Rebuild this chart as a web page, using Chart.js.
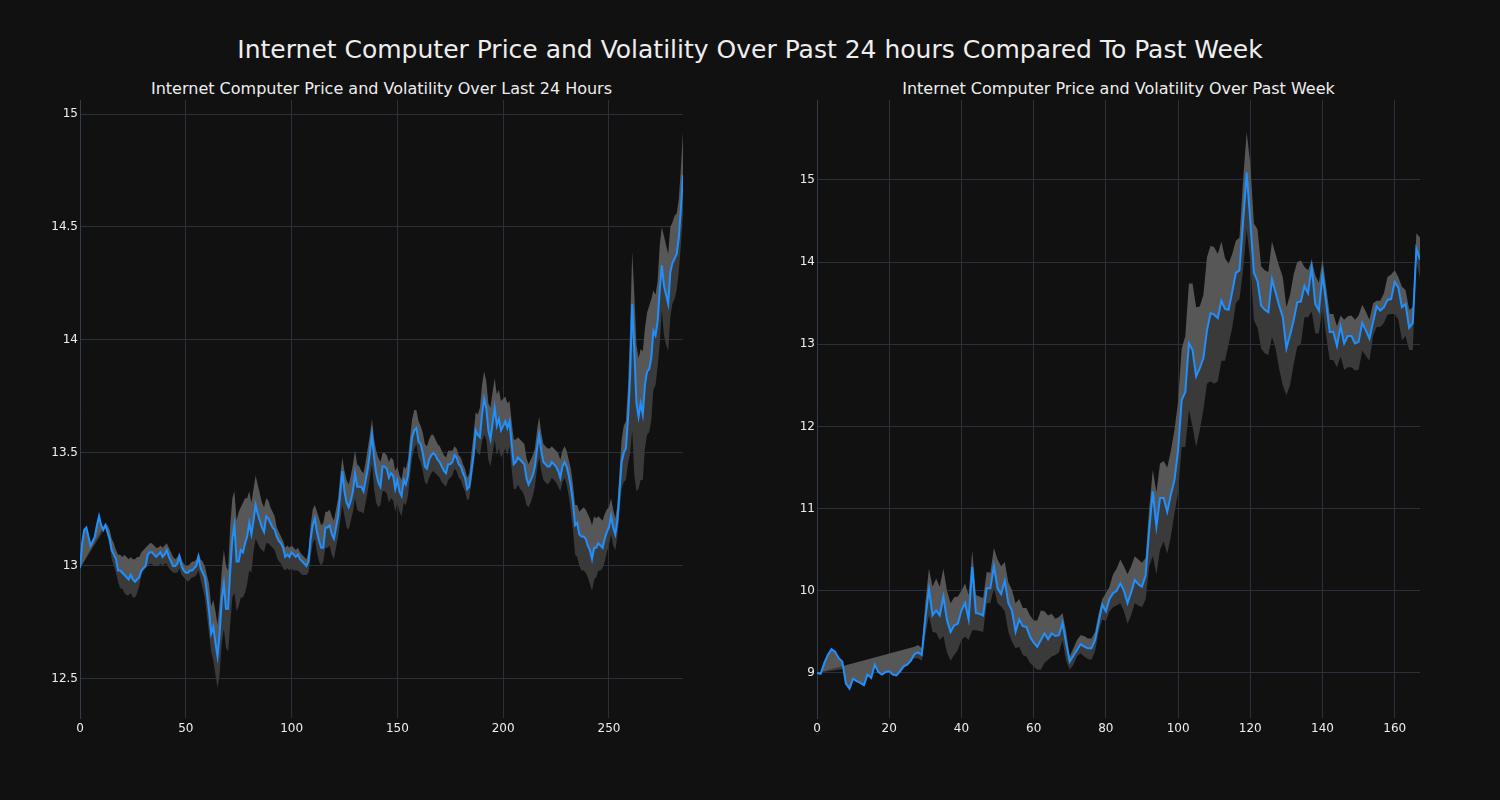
<!DOCTYPE html>
<html><head><meta charset="utf-8">
<script src="https://cdn.jsdelivr.net/npm/chart.js@4.4.1/dist/chart.umd.min.js"></script>
<style>
html,body{margin:0;padding:0;background:#111111;}
#wrap{position:relative;width:1500px;height:800px;background:#111111;font-family:"DejaVu Sans",sans-serif;color:#eeeeee;overflow:hidden;}
.title{position:absolute;left:0;width:1500px;top:35px;line-height:30px;text-align:center;font-size:25px;}
.sub{position:absolute;top:79px;line-height:20px;font-size:16px;text-align:center;}
canvas{position:absolute;top:0;}
</style></head>
<body>
<div id="wrap">
<div class="title">Internet Computer Price and Volatility Over Past 24 hours Compared To Past Week</div>
<div class="sub" style="left:80px;width:603px;">Internet Computer Price and Volatility Over Last 24 Hours</div>
<div class="sub" style="left:817px;width:603px;">Internet Computer Price and Volatility Over Past Week</div>
<canvas id="c1" width="750" height="800" style="left:0px;width:750px;height:800px;"></canvas>
<canvas id="c2" width="750" height="800" style="left:750px;width:750px;height:800px;"></canvas>
</div>
<script>
const dayXTicks = [0,50,100,150,200,250];
const dayYTicks = [12.5,13,13.5,14,14.5,15];
const weekXTicks = [0,20,40,60,80,100,120,140,160];
const weekYTicks = [9,10,11,12,13,14,15];

const dayPrice = [
12.99,13.10,13.16,13.17,13.13,13.09,13.11,13.13,13.18,13.22,
13.18,13.16,13.18,13.15,13.12,13.07,13.05,13.03,12.98,12.98,
12.97,12.96,12.95,12.94,12.96,12.94,12.93,12.94,12.95,12.98,
12.99,13.00,13.05,13.06,13.06,13.05,13.04,13.05,13.06,13.04,
13.05,13.07,13.04,13.02,13.00,13.00,13.01,13.04,13.00,12.98,
12.97,12.97,12.98,12.98,12.99,13.00,13.04,12.99,12.97,12.95,
12.88,12.80,12.70,12.73,12.66,12.60,12.70,12.85,12.92,12.81,
12.81,12.98,13.12,13.18,13.02,13.02,13.07,13.06,13.10,13.13,
13.19,13.14,13.20,13.27,13.23,13.20,13.17,13.15,13.22,13.21,
13.19,13.17,13.16,13.13,13.11,13.10,13.08,13.04,13.05,13.04,
13.06,13.05,13.04,13.05,13.03,13.02,13.01,13.00,13.02,13.12,
13.18,13.21,13.15,13.11,13.08,13.08,13.17,13.17,13.18,13.14,
13.12,13.17,13.22,13.32,13.42,13.33,13.28,13.26,13.29,13.33,
13.41,13.35,13.35,13.35,13.33,13.38,13.43,13.50,13.58,13.48,
13.41,13.37,13.35,13.44,13.44,13.43,13.39,13.41,13.40,13.34,
13.38,13.33,13.31,13.38,13.36,13.40,13.49,13.57,13.60,13.61,
13.55,13.54,13.50,13.44,13.43,13.47,13.49,13.50,13.49,13.47,
13.46,13.44,13.42,13.41,13.45,13.45,13.46,13.49,13.48,13.45,
13.44,13.41,13.39,13.34,13.35,13.42,13.49,13.60,13.58,13.57,
13.67,13.74,13.70,13.60,13.56,13.63,13.70,13.62,13.65,13.60,
13.62,13.64,13.61,13.64,13.54,13.45,13.46,13.48,13.47,13.46,
13.45,13.39,13.36,13.38,13.40,13.44,13.52,13.58,13.51,13.46,
13.45,13.44,13.44,13.46,13.45,13.44,13.42,13.39,13.44,13.46,
13.44,13.40,13.35,13.28,13.18,13.19,13.14,13.13,13.13,13.12,
13.09,13.07,13.03,13.08,13.08,13.10,13.09,13.08,13.12,13.15,
13.17,13.22,13.17,13.14,13.20,13.33,13.46,13.50,13.52,13.65,
13.84,14.16,13.95,13.72,13.66,13.72,13.67,13.80,13.86,13.87,
13.92,14.04,14.02,14.08,14.22,14.33,14.24,14.20,14.16,14.30,
14.34,14.36,14.38,14.45,14.58,14.73];

const dayUpper = [
12.99,null,null,null,null,null,null,null,null,null,
null,null,13.19,13.18,13.16,13.12,13.10,13.07,13.05,13.05,
13.04,13.05,13.04,13.03,13.04,13.03,13.03,13.04,13.04,13.06,
13.07,13.08,13.09,13.10,13.10,13.09,13.08,13.08,13.09,13.08,
13.09,13.10,13.08,13.06,13.04,13.03,13.04,13.06,13.03,13.01,
13.00,13.00,13.01,13.02,13.02,13.03,13.06,13.03,13.02,13.00,
12.96,12.92,12.82,12.85,12.80,12.74,12.84,12.98,13.07,13.00,
12.98,13.18,13.30,13.33,13.20,13.24,13.26,13.28,13.30,13.30,
13.33,13.28,13.34,13.40,13.36,13.32,13.28,13.26,13.30,13.29,
13.26,13.24,13.22,13.17,13.15,13.13,13.11,13.08,13.09,13.08,
13.09,13.08,13.07,13.08,13.06,13.05,13.04,13.03,13.06,13.18,
13.25,13.27,13.24,13.21,13.18,13.19,13.24,13.24,13.25,13.22,
13.20,13.25,13.30,13.40,13.48,13.42,13.38,13.36,13.40,13.45,
13.51,13.45,13.44,13.42,13.41,13.46,13.52,13.58,13.65,13.56,
13.51,13.48,13.46,13.50,13.50,13.49,13.46,13.48,13.47,13.42,
13.44,13.40,13.38,13.44,13.43,13.47,13.57,13.65,13.69,13.69,
13.64,13.62,13.59,13.54,13.53,13.56,13.58,13.58,13.56,13.54,
13.53,13.51,13.49,13.48,13.51,13.51,13.51,13.53,13.52,13.49,
13.48,13.45,13.43,13.39,13.41,13.50,13.58,13.68,13.67,13.70,
13.80,13.86,13.82,13.72,13.70,13.77,13.83,13.76,13.78,13.73,
13.74,13.75,13.72,13.73,13.64,13.56,13.56,13.57,13.56,13.55,
13.54,13.48,13.45,13.47,13.49,13.52,13.60,13.66,13.59,13.54,
13.53,13.52,13.52,13.53,13.52,13.51,13.50,13.47,13.51,13.53,
13.51,13.47,13.43,13.36,13.27,13.27,13.24,13.25,13.26,13.25,
13.23,13.21,13.18,13.22,13.21,13.22,13.21,13.20,13.23,13.25,
13.26,13.30,13.25,13.21,13.27,13.42,13.56,13.62,13.64,13.79,
14.05,14.39,14.20,13.98,13.92,13.96,13.95,14.05,14.12,14.15,
14.18,14.22,14.20,14.26,14.42,14.50,14.46,14.42,14.38,14.50,
14.52,14.55,14.56,14.62,14.76,14.92];

const dayLower = [
12.99,null,null,null,null,null,null,null,null,null,
null,null,13.17,13.13,13.09,13.03,13.00,12.97,12.93,12.90,
12.90,12.88,12.87,12.87,12.88,12.86,12.86,12.88,12.91,12.96,
12.98,12.99,13.00,13.01,13.01,13.00,13.00,13.00,13.01,13.00,
13.01,13.01,12.99,12.98,12.97,12.97,12.97,12.99,12.96,12.95,
12.94,12.93,12.94,12.95,12.95,12.96,12.98,12.94,12.90,12.86,
12.78,12.70,12.62,12.58,12.52,12.46,12.52,12.66,12.72,12.64,
12.62,12.74,12.86,12.88,12.80,12.82,12.86,12.86,12.88,12.92,
12.98,12.97,13.06,13.12,13.10,13.08,13.07,13.06,13.10,13.10,
13.09,13.08,13.07,13.04,13.02,13.01,12.99,12.98,12.99,12.98,
12.99,12.98,12.98,12.98,12.97,12.96,12.96,12.96,12.97,13.04,
13.10,13.12,13.06,13.02,13.00,13.02,13.08,13.08,13.09,13.05,
13.03,13.08,13.13,13.20,13.27,13.22,13.17,13.16,13.20,13.24,
13.30,13.25,13.24,13.24,13.23,13.28,13.33,13.39,13.45,13.34,
13.28,13.26,13.27,13.33,13.33,13.32,13.28,13.30,13.29,13.24,
13.28,13.24,13.22,13.28,13.27,13.31,13.40,13.48,13.52,13.54,
13.48,13.46,13.42,13.37,13.36,13.39,13.41,13.42,13.41,13.40,
13.39,13.37,13.36,13.35,13.38,13.39,13.40,13.43,13.42,13.39,
13.38,13.35,13.33,13.29,13.30,13.37,13.44,13.52,13.50,13.49,
13.55,13.58,13.56,13.47,13.44,13.50,13.56,13.49,13.52,13.48,
13.50,13.52,13.49,13.53,13.43,13.34,13.34,13.36,13.34,13.33,
13.31,13.27,13.26,13.28,13.31,13.35,13.43,13.48,13.42,13.38,
13.37,13.36,13.37,13.39,13.38,13.37,13.35,13.33,13.37,13.39,
13.36,13.31,13.24,13.16,13.05,13.04,13.00,12.98,12.98,12.97,
12.95,12.92,12.89,12.94,12.95,12.98,12.98,12.99,13.02,13.06,
13.09,13.14,13.09,13.07,13.13,13.24,13.34,13.37,13.38,13.45,
13.50,13.60,13.40,13.33,13.34,13.38,13.38,13.52,13.58,13.59,
13.64,13.78,13.80,13.88,13.98,14.13,14.02,13.98,13.95,14.10,
14.16,14.18,14.22,14.30,14.42,14.56];

const weekPrice = [
9.00,8.99,9.12,9.22,9.29,9.26,9.18,9.14,8.87,8.81,
8.93,8.90,8.88,8.85,8.98,8.94,9.10,9.01,8.98,9.01,
9.02,8.98,8.97,9.02,9.08,9.10,9.15,9.23,9.25,9.22,
9.66,10.02,9.70,9.76,9.70,9.93,9.64,9.50,9.58,9.60,
9.76,9.85,9.65,10.29,9.73,9.72,9.70,10.03,10.03,10.30,
10.03,9.96,10.12,9.85,9.76,9.50,9.65,9.57,9.56,9.44,
9.37,9.32,9.40,9.48,9.41,9.48,9.45,9.46,9.61,9.36,
9.14,9.21,9.28,9.35,9.32,9.30,9.30,9.40,9.62,9.83,
9.75,9.90,9.97,10.00,10.09,10.00,9.85,9.98,10.13,10.08,
10.05,10.19,10.74,11.21,10.78,11.13,11.13,10.96,11.17,11.35,
11.71,12.32,12.42,13.01,12.93,12.61,12.71,12.83,13.17,13.38,
13.36,13.32,13.53,13.43,13.42,13.64,13.87,13.90,14.49,15.09,
14.50,13.87,13.77,13.47,13.42,13.39,13.79,13.63,13.47,13.33,
12.95,13.11,13.29,13.51,13.52,13.71,13.62,13.94,13.49,13.41,
13.85,13.51,13.15,13.15,12.98,13.22,13.01,13.10,13.10,13.01,
13.03,13.26,13.17,13.07,13.27,13.46,13.41,13.45,13.54,13.55,
13.76,13.69,13.45,13.49,13.20,13.26,14.16,14.03];

const weekUpper = [
9.00,null,null,null,null,null,null,null,null,null,
null,null,null,null,null,null,null,null,null,null,
null,null,null,null,null,null,null,9.32,9.34,9.30,
9.85,10.27,10.05,10.15,10.05,10.27,10.00,9.85,9.92,9.93,
10.00,10.09,9.95,10.49,9.95,9.93,9.91,10.23,10.22,10.52,
10.38,10.30,10.35,10.10,10.01,9.85,9.90,9.79,9.79,9.70,
9.64,9.64,9.76,9.75,9.70,9.72,9.66,9.68,9.73,9.50,
9.20,9.30,9.40,9.46,9.45,9.42,9.42,9.50,9.72,9.90,
9.97,10.05,10.20,10.27,10.38,10.30,10.20,10.30,10.42,10.38,
10.34,10.40,11.00,11.47,11.20,11.55,11.58,11.50,11.70,11.96,
12.30,12.95,13.10,13.74,13.74,13.45,13.46,13.60,14.06,14.20,
14.18,14.10,14.25,14.05,13.98,14.10,14.26,14.30,15.00,15.58,
15.20,14.47,14.40,13.95,13.90,13.88,14.25,14.10,13.95,13.82,
13.45,13.60,13.85,14.00,14.02,13.94,13.90,14.02,13.84,13.75,
14.04,13.70,13.37,13.37,13.22,13.35,13.30,13.34,13.35,13.30,
13.35,13.48,13.40,13.30,13.50,13.53,13.53,13.62,13.82,13.85,
13.90,13.82,13.70,13.66,13.42,13.45,14.35,14.30];

const weekLower = [
9.00,null,null,null,null,null,null,null,null,null,
null,null,null,null,null,null,null,null,null,null,
null,null,null,null,null,null,null,9.18,9.18,9.15,
9.45,9.70,9.50,9.49,9.40,9.45,9.25,9.15,9.22,9.28,
9.40,9.44,9.40,9.52,9.52,9.51,9.50,9.85,9.85,10.03,
9.85,9.81,9.75,9.50,9.38,9.30,9.32,9.22,9.20,9.12,
9.08,9.04,9.04,9.12,9.16,9.20,9.22,9.25,9.40,9.15,
9.04,9.10,9.20,9.24,9.20,9.17,9.16,9.26,9.50,9.65,
9.63,9.75,9.80,9.82,9.85,9.75,9.60,9.70,9.85,9.82,
9.80,9.89,10.30,10.42,10.20,10.50,10.60,10.45,10.66,10.94,
11.20,11.75,11.75,12.20,12.00,11.75,11.95,12.20,12.52,12.55,
12.52,12.55,12.80,12.80,13.00,13.20,13.50,13.55,13.90,14.40,
14.00,13.29,13.20,12.95,12.89,12.87,13.09,12.95,12.70,12.50,
12.38,12.50,12.75,12.97,13.00,13.33,13.33,13.40,13.13,13.13,
13.45,13.10,12.81,12.81,12.72,12.85,12.69,12.72,12.72,12.68,
12.69,12.92,12.86,12.80,13.10,13.21,13.21,13.26,13.36,13.37,
13.37,13.30,13.05,13.10,12.93,12.93,14.02,13.80];

const FONT = "'DejaVu Sans', sans-serif";
const GRID = '#2a313d';
const SPINE = '#343c4a';
const TICKC = '#eeeeee';
const BLUE = '#1e90ff';
const BAND_HI = '#575757';
const BAND_LO = '#3a3a3a';

function pts(arr){ const out=[]; arr.forEach((v,i)=>{ if(v!==null) out.push({x:i,y:v}); }); return out; }

function build(id, price, upper, lower, xTicks, yTicks, xMax, yMin, yMax, padL, padR){
  new Chart(document.getElementById(id), {
    type:'line',
    data:{datasets:[
      {data:pts(price), borderColor:BLUE, borderWidth:2, pointRadius:0, fill:false, order:0, tension:0},
      {data:pts(upper), borderWidth:0, borderColor:'rgba(0,0,0,0)', pointRadius:0, fill:{target:0}, backgroundColor:BAND_HI, order:1, tension:0},
      {data:pts(lower), borderWidth:0, borderColor:'rgba(0,0,0,0)', pointRadius:0, fill:{target:0}, backgroundColor:BAND_LO, order:2, tension:0}
    ]},
    options:{
      responsive:false, animation:false, devicePixelRatio:1,
      layout:{padding:{left:padL,right:padR,top:100,bottom:52}},
      plugins:{legend:{display:false}, tooltip:{enabled:false}, title:{display:false}},
      scales:{
        x:{type:'linear', min:0, max:xMax,
           afterBuildTicks:s=>{ s.ticks = xTicks.map(v=>({value:v})); },
           afterFit:s=>{ s.height = 30; },
           grid:{color:GRID, lineWidth:1, drawTicks:false},
           border:{display:false},
           ticks:{color:TICKC, font:{family:FONT,size:12}, padding:4, maxRotation:0, autoSkip:false, callback:v=>String(v)}},
        y:{type:'linear', min:yMin, max:yMax,
           afterBuildTicks:s=>{ s.ticks = yTicks.map(v=>({value:v})); },
           afterFit:s=>{ s.width = 50; },
           grid:{color:GRID, lineWidth:1, drawTicks:false},
           border:{display:true, color:SPINE, width:1},
           ticks:{color:TICKC, font:{family:FONT,size:12}, padding:2, autoSkip:false, callback:v=>String(v)}}
      }
    }
  });
}

build('c1', dayPrice, dayUpper, dayLower, dayXTicks, dayYTicks, 285, 12.327, 15.062, 30, 67);
build('c2', weekPrice, weekUpper, weekLower, weekXTicks, weekYTicks, 167, 8.452, 15.973, 17, 80);
</script>
</body></html>
